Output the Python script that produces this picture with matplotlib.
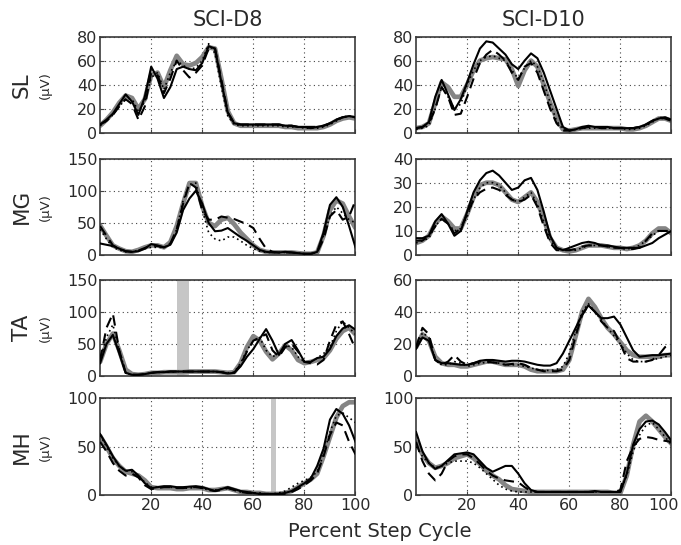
"""
EMG envelopes over the step cycle, two subjects, four muscles
"""

import matplotlib
matplotlib.use("Agg")

import matplotlib.pyplot as plt
import matplotlib.transforms as mtransforms
import numpy as np


plt.rcParams["font.family"] = ["DejaVu Sans"]

# percent of step cycle, sampled every 2.5 %
PCT = np.arange(0, 100.1, 2.5)

SUBJECTS = ["SCI-D8", "SCI-D10"]
MUSCLES = ["SL", "MG", "TA", "MH"]
X_TICKS = [20, 40, 60, 80, 100]

Y_TICKS = {
    ("SL", "SCI-D8"): [0, 20, 40, 60, 80],
    ("SL", "SCI-D10"): [0, 20, 40, 60, 80],
    ("MG", "SCI-D8"): [0, 50, 100, 150],
    ("MG", "SCI-D10"): [0, 10, 20, 30, 40],
    ("TA", "SCI-D8"): [0, 50, 100, 150],
    ("TA", "SCI-D10"): [0, 20, 40, 60],
    ("MH", "SCI-D8"): [0, 50, 100],
    ("MH", "SCI-D10"): [0, 50, 100],
}

# gray bars marking events (percent cycle)
TA_D8_BAND = (30.3, 35.0)
MH_D8_BAND = (67.1, 69.0)

# ---- SL ----
SL_D8_GRAY = [6, 11, 17, 25, 31, 29, 20, 28, 48, 50, 38, 52, 64, 57, 56, 58, 63, 71, 70, 45,
              18, 8, 6, 6, 6, 6, 6, 6, 6, 5, 5, 4, 4, 4, 4, 5, 7, 10, 12, 13, 12]
SL_D8_SOLID = [7, 11, 16, 24, 32, 26, 15, 30, 55, 45, 29, 38, 53, 55, 53, 52, 58, 72, 70, 42,
               17, 8, 7, 7, 7, 7, 7, 7, 7, 6, 6, 5, 5, 4, 5, 6, 8, 11, 13, 14, 13]
SL_D8_DASH = [7, 10, 15, 22, 28, 24, 11, 22, 50, 48, 33, 45, 60, 52, 46, 50, 56, 70, 70, 44,
              17, 8, 7, 7, 7, 7, 7, 7, 7, 6, 6, 5, 5, 5, 5, 6, 8, 11, 13, 14, 13]
SL_D8_DOT = [6, 10, 15, 22, 28, 28, 18, 26, 46, 50, 36, 50, 60, 56, 53, 54, 60, 74, 66, 38,
             14, 7, 6, 6, 6, 6, 6, 6, 6, 5, 5, 5, 4, 4, 4, 5, 7, 10, 13, 14, 13]

SL_D10_GRAY = [4, 5, 8, 25, 42, 38, 30, 30, 40, 52, 60, 62, 63, 62, 61, 53, 39, 52, 60, 55,
               40, 25, 12, 3, 2, 3, 4, 4, 4, 4, 4, 4, 4, 3, 3, 4, 6, 9, 12, 12, 10]
SL_D10_SOLID = [4, 5, 9, 30, 44, 32, 19, 28, 42, 57, 70, 76, 75, 70, 65, 57, 53, 60, 66, 62,
                50, 35, 20, 5, 2, 3, 5, 6, 5, 5, 5, 4, 4, 4, 4, 5, 7, 10, 12, 13, 11]
SL_D10_DASH = [4, 5, 8, 20, 38, 30, 15, 16, 30, 45, 58, 65, 69, 65, 60, 50, 44, 55, 58, 50,
               35, 20, 8, 2, 2, 3, 4, 5, 5, 4, 4, 4, 4, 4, 4, 5, 7, 10, 13, 12, 10]
SL_D10_DOT = [3, 4, 6, 20, 38, 30, 20, 24, 40, 52, 60, 63, 64, 62, 60, 52, 45, 54, 60, 55,
              42, 25, 10, 3, 2, 3, 4, 4, 4, 4, 4, 4, 4, 3, 3, 4, 6, 9, 12, 12, 10]

# ---- MG ----
MG_D8_GRAY = [46, 30, 15, 10, 6, 5, 8, 12, 15, 15, 12, 20, 45, 80, 112, 112, 76, 50, 45, 55,
              58, 48, 35, 25, 15, 8, 5, 4, 4, 4, 4, 3, 2, 2, 4, 30, 70, 85, 80, 60, 42]
MG_D8_SOLID = [18, 16, 14, 10, 6, 5, 6, 10, 17, 15, 12, 16, 35, 70, 88, 100, 80, 50, 37, 38,
               42, 35, 28, 22, 15, 8, 5, 4, 4, 5, 4, 3, 2, 2, 5, 35, 78, 90, 75, 45, 12]
MG_D8_DASH = [45, 30, 15, 10, 6, 5, 7, 11, 15, 14, 12, 18, 40, 80, 112, 105, 70, 55, 55, 60,
              58, 56, 52, 48, 42, 25, 10, 5, 4, 4, 4, 3, 2, 2, 4, 25, 60, 70, 55, 60, 85]
MG_D8_DOT = [40, 25, 12, 8, 5, 5, 7, 10, 12, 12, 12, 18, 40, 85, 110, 112, 70, 35, 25, 22,
             28, 28, 22, 15, 10, 6, 4, 4, 4, 4, 4, 3, 2, 2, 4, 30, 60, 75, 65, 55, 50]

MG_D10_GRAY = [5, 6, 8, 13, 16, 14, 11, 11, 17, 24, 29, 30, 30, 29, 26, 23, 22, 24, 26, 22,
               15, 7, 3, 2, 1.5, 2, 3, 4, 4, 4, 3.5, 3, 3, 2.5, 3, 4, 6, 9, 11, 11, 9]
MG_D10_SOLID = [7, 7, 8, 14, 17, 13, 8, 10, 18, 26, 31, 34, 35, 33, 30, 27, 28, 31, 32, 27,
                18, 8, 3, 2, 3, 4, 5, 5.5, 5, 4, 4, 3.5, 3, 3, 3, 3, 4, 5, 7, 8.5, 10]
MG_D10_DASH = [6, 6, 8, 12, 15, 13, 9, 11, 17, 23, 26, 27.5, 28, 27, 25, 23, 22, 23, 25, 20,
               12, 5, 2, 2, 2, 2.5, 3.5, 4, 4, 4, 3.5, 3, 3, 2.5, 2.5, 3, 6, 9, 10, 10, 10]
MG_D10_DOT = [5, 6, 7, 12, 15, 13, 10, 11, 16, 23, 28, 30, 30, 29, 26, 23, 22, 24, 26, 21,
              14, 6, 3, 2, 2, 2, 3, 4, 4, 4, 3.5, 3, 3, 2.5, 3, 4, 6, 8, 10, 10, 9]

# ---- TA ----
TA_D8_GRAY = [22, 50, 66, 40, 10, 3, 2, 3, 5, 5, 6, 6, 6, 6, 7, 7, 7, 7, 7, 6,
              5, 6, 20, 45, 62, 55, 38, 26, 35, 48, 40, 25, 20, 22, 25, 28, 40, 58, 70, 75, 65]
TA_D8_SOLID = [20, 50, 64, 35, 5, 2, 2, 3, 5, 6, 6, 7, 7, 7, 7, 7, 7, 7, 7, 6,
               4, 5, 15, 30, 42, 58, 73, 55, 33, 50, 56, 40, 22, 22, 28, 30, 42, 62, 74, 79, 72]
TA_D8_DASH = [25, 75, 97, 40, 5, 2, 2, 3, 5, 6, 6, 7, 7, 7, 7, 7, 7, 7, 7, 6,
              4, 5, 18, 38, 55, 60, 65, 40, 30, 45, 50, 38, 22, 20, 18, 25, 55, 80, 85, 65, 42]
TA_D8_DOT = [25, 60, 80, 40, 5, 2, 2, 3, 5, 6, 6, 6, 7, 7, 7, 7, 7, 7, 7, 6,
             5, 6, 20, 40, 55, 60, 40, 30, 35, 48, 45, 30, 22, 22, 28, 35, 45, 70, 85, 75, 65]

TA_D10_GRAY = [18, 26, 22, 12, 8, 7, 7, 6, 6, 7, 8, 9, 9, 8, 7, 7, 7, 6, 4, 3,
               3, 3, 3, 4, 10, 25, 40, 48, 43, 36, 30, 26, 21, 16, 13, 12, 12, 12, 12, 13, 13]
TA_D10_SOLID = [17, 24, 22, 10, 8, 8, 7.5, 7, 7, 8, 9.5, 10, 10, 9.5, 9, 9.5, 9.5, 9, 8, 7,
                6.5, 6.5, 8, 14, 22, 30, 38, 44, 40, 36, 36, 37, 32, 24, 16, 12, 12.5, 13, 13, 13.5, 14]
TA_D10_DASH = [18, 30, 26, 10, 7, 9, 13, 9, 7, 8, 9, 9, 8.5, 8, 7, 7.5, 8, 7, 5, 4,
               3, 3, 3, 4, 10, 25, 38, 44, 40, 34, 30, 28, 20, 11, 9, 9, 9, 10, 13, 18, 20]
TA_D10_DOT = [17, 27, 24, 10, 7, 7, 9, 8, 6, 7, 8, 8.5, 8.5, 8, 7, 7, 7, 6, 5, 4,
              3.5, 3.5, 4, 6, 14, 28, 40, 45, 40, 35, 30, 25, 20, 14, 10, 9, 9, 10, 11, 12, 13]

# ---- MH ----
MH_D8_GRAY = [61, 50, 38, 30, 24, 22, 20, 15, 8, 7, 7, 7, 6, 6, 7, 7, 7, 5, 5, 6,
              7, 5, 3, 3, 2, 2, 1, 1, 1, 2, 4, 8, 12, 16, 22, 40, 60, 80, 92, 96, 96]
MH_D8_SOLID = [63, 52, 40, 30, 25, 26, 20, 12, 7, 8, 9, 9, 8, 8, 8.5, 9, 8, 6, 4, 6,
               8, 6, 4, 3, 2, 1, 1, 1, 1, 2, 4, 8, 12, 17, 30, 48, 78, 89, 84, 72, 55]
MH_D8_DASH = [55, 45, 33, 25, 20, 22, 18, 10, 6, 7, 8, 8, 7, 7, 8, 8, 7, 5, 4, 5,
              7, 5, 3, 2, 2, 1, 1, 1, 1, 1, 3, 6, 10, 15, 22, 40, 62, 75, 72, 55, 42]
MH_D8_DOT = [62, 50, 38, 30, 25, 24, 20, 13, 8, 8, 8, 8, 7, 7, 7, 8, 7, 5, 5, 6,
             7, 5, 3, 3, 2, 2, 1, 1, 2, 4, 8, 12, 15, 18, 24, 42, 65, 82, 85, 80, 75]

MH_D10_GRAY = [55, 42, 33, 28, 30, 33, 38, 40, 42, 38, 32, 25, 20, 16, 10, 6, 5, 4, 3, 3,
               3, 3, 3, 3, 3, 3, 3, 3, 3, 3, 3, 2, 2, 20, 52, 76, 82, 76, 68, 60, 53]
MH_D10_SOLID = [65, 45, 33, 27, 30, 36, 42, 43, 44, 42, 35, 28, 24, 27, 30, 30, 22, 12, 5, 3,
                3, 3, 3, 3, 3, 3, 3, 3, 4, 3, 3, 3, 3, 22, 52, 68, 76, 77, 73, 65, 56]
MH_D10_DASH = [55, 35, 22, 15, 22, 35, 40, 42, 42, 38, 32, 25, 20, 17, 15, 14, 13, 8, 4, 3,
               3, 3, 3, 3, 3, 3, 3, 3, 3, 3, 3, 3, 5, 35, 50, 58, 60, 59, 57, 56, 55]
MH_D10_DOT = [50, 40, 33, 28, 30, 33, 35, 35, 35, 33, 28, 22, 16, 10, 6, 4, 3, 3, 3, 3,
              3, 3, 3, 3, 3, 3, 3, 3, 3, 3, 3, 3, 3, 20, 45, 62, 72, 75, 68, 60, 52]


SERIES = {
    ("SL", "SCI-D8"): (SL_D8_GRAY, SL_D8_DOT, SL_D8_DASH, SL_D8_SOLID),
    ("SL", "SCI-D10"): (SL_D10_GRAY, SL_D10_DOT, SL_D10_DASH, SL_D10_SOLID),
    ("MG", "SCI-D8"): (MG_D8_GRAY, MG_D8_DOT, MG_D8_DASH, MG_D8_SOLID),
    ("MG", "SCI-D10"): (MG_D10_GRAY, MG_D10_DOT, MG_D10_DASH, MG_D10_SOLID),
    ("TA", "SCI-D8"): (TA_D8_GRAY, TA_D8_DOT, TA_D8_DASH, TA_D8_SOLID),
    ("TA", "SCI-D10"): (TA_D10_GRAY, TA_D10_DOT, TA_D10_DASH, TA_D10_SOLID),
    ("MH", "SCI-D8"): (MH_D8_GRAY, MH_D8_DOT, MH_D8_DASH, MH_D8_SOLID),
    ("MH", "SCI-D10"): (MH_D10_GRAY, MH_D10_DOT, MH_D10_DASH, MH_D10_SOLID),
}

BANDS = {
    ("TA", "SCI-D8"): TA_D8_BAND,
    ("MH", "SCI-D8"): MH_D8_BAND,
}

TEXT_COLOR = "#2a2a2a"


def draw_panel(ax, key, show_x):
    """
    Draw one muscle / subject panel.
    """

    gray, dot, dash, solid = SERIES[key]
    yticks = Y_TICKS[key]

    if key in BANDS:
        lo, hi = BANDS[key]
        ax.axvspan(lo, hi, color="#c6c6c6", lw=0, zorder=1)

    ax.plot(PCT, gray, color="#858585", lw=3.4, solid_capstyle="round", zorder=2)
    ax.plot(PCT, dot, color="black", lw=1.2, linestyle=(0, (1, 2)), zorder=3)
    ax.plot(PCT, dash, color="black", lw=1.5, linestyle=(0, (5, 3)), zorder=4)
    ax.plot(PCT, solid, color="black", lw=1.5, zorder=5)

    ax.set_xlim(0, 100)
    ax.set_ylim(yticks[0], yticks[-1])
    ax.set_xticks(X_TICKS)
    ax.set_yticks(yticks)

    ax.grid(True, color="#444444", lw=0.8, linestyle=(0, (1, 3)))
    ax.set_axisbelow(True)

    ax.tick_params(direction="in", length=3, width=0.8, labelsize=11.5,
                   labelcolor=TEXT_COLOR, color="#444444", pad=2)
    if not show_x:
        ax.tick_params(labelbottom=False)

    for spine in ax.spines.values():
        spine.set_color("#3a3a3a")
        spine.set_linewidth(1.2)


def main():
    fig = plt.figure(figsize=(6.81, 5.45), dpi=100)

    lefts = [0.147, 0.611]
    bottoms = [0.756, 0.532, 0.310, 0.092]
    width = 0.375
    height = 0.177

    for r, muscle in enumerate(MUSCLES):
        for c, subject in enumerate(SUBJECTS):
            ax = fig.add_axes([lefts[c], bottoms[r], width, height])
            last_row = r == len(MUSCLES) - 1
            draw_panel(ax, (muscle, subject), show_x=last_row)

            if r == 0:
                fig.text(lefts[c] + width / 2, 0.952, subject, ha="center",
                         va="baseline", fontsize=15, color=TEXT_COLOR)

            # nudge the last "100" left so it stays inside the figure
            if last_row and c == 1:
                label = ax.get_xticklabels()[-1]
                shift = mtransforms.ScaledTranslation(-6 / 72, 0, fig.dpi_scale_trans)
                label.set_transform(label.get_transform() + shift)

        yc = bottoms[r] + height / 2
        fig.text(0.041, yc, muscle, rotation=90, rotation_mode="anchor",
                 ha="center", va="baseline", fontsize=15.5, color=TEXT_COLOR)
        fig.text(0.072, yc, "(\u03bcV)", rotation=90, rotation_mode="anchor",
                 ha="center", va="baseline", fontsize=9.5, color=TEXT_COLOR)

    fig.text(0.558, 0.014, "Percent Step Cycle", ha="center", va="baseline",
             fontsize=14, color=TEXT_COLOR)

    fig.savefig("out.png", dpi=100)


if __name__ == "__main__":
    main()
